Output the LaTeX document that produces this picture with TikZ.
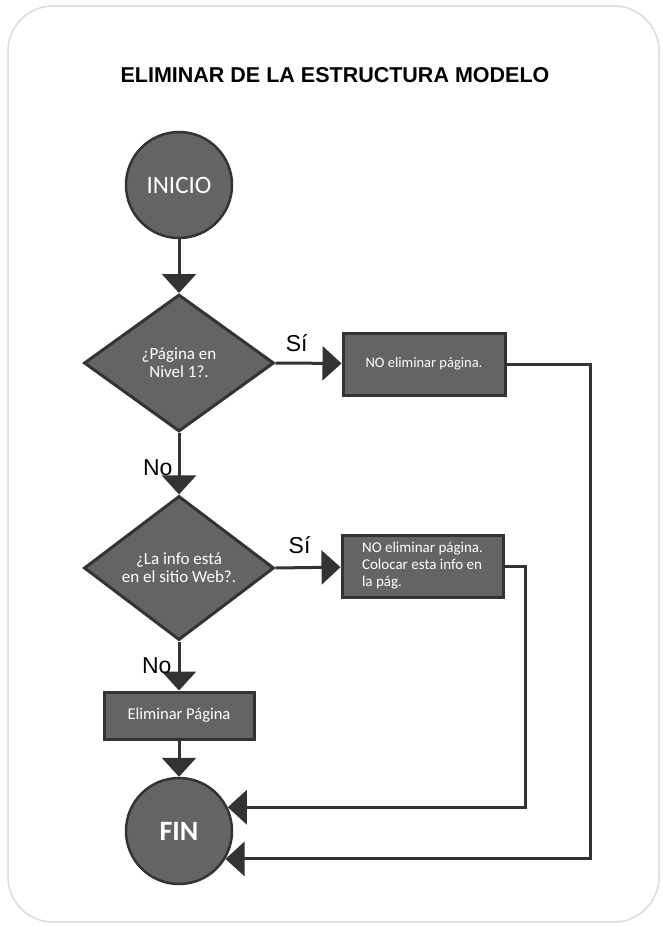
\documentclass[tikz,border=0pt]{standalone}
\usepackage{fontspec}
\setmainfont{Carlito}
\newfontfamily\arialfont{Liberation Sans}
\usetikzlibrary{shapes.geometric,arrows.meta}
\definecolor{boxgray}{HTML}{646464}
\definecolor{edgegray}{HTML}{333333}
\definecolor{framegray}{HTML}{DCDCDC}
\begin{document}
\begin{tikzpicture}[x=1pt,y=-1pt,
    term/.style={circle, draw=edgegray, fill=boxgray, line width=2.5pt, minimum size=106pt, inner sep=0pt, text=white, font=\fontsize{25}{30}\selectfont},
    decision/.style={diamond, draw=edgegray, fill=boxgray, line width=3pt, minimum width=190pt, minimum height=137pt, inner sep=0pt, text=white, align=center, font=\fontsize{17}{18}\selectfont},
    process/.style={rectangle, draw=edgegray, fill=boxgray, line width=3pt, inner sep=0pt, text=white, font=\fontsize{14.5}{17}\selectfont},
    flow/.style={draw=edgegray, line width=3pt, -{Triangle[length=19pt,width=34pt]}},
    answer/.style={inner sep=0pt, font=\arialfont\fontsize{23}{26}\selectfont}]
    \useasboundingbox (0,0) rectangle (663,927);
    \draw [framegray, line width=1.5pt, rounded corners=45pt] (8,6) rectangle (659,922);
    \node [font=\arialfont\bfseries\fontsize{21.5}{25}\selectfont] (title) at (335,75.5) {ELIMINAR DE LA ESTRUCTURA MODELO};
    \node [term] (inicio) at (179,185) {INICIO};
    \node [decision] (nivel) at (179,363) {¿Página en\\Nivel 1?.};
    \node [process, minimum width=162pt, minimum height=62pt] (conservar) at (424,364) {NO eliminar página.};
    \node [decision] (sitio) at (179,568) {¿La info está\\en el sitio Web?.};
    \node [process, minimum width=161pt, minimum height=62pt, align=left, font=\fontsize{15}{17}\selectfont] (colocar) at (422.5,566) {NO eliminar página.\\Colocar esta info en\\la pág.};
    \node [process, minimum width=150pt, minimum height=47pt, font=\fontsize{16.5}{19}\selectfont] (eliminar) at (179,715.5) {Eliminar Página};
    \node [term, font=\bfseries\fontsize{28}{32}\selectfont] (fin) at (179,831) {FIN};
    \coordinate (r1) at (590,364);
    \coordinate (r2) at (525,566);
    \draw [flow] (inicio) -- (nivel);
    \draw [flow] (nivel.east) -- node [answer, pos=0.32, above=10pt] {Sí} (conservar);
    \draw [flow] (nivel) -- node [answer, pos=0.56, left=5pt] {No} (sitio);
    \draw [flow] (sitio.east) -- node [answer, pos=0.37, above=12pt] {Sí} (colocar);
    \draw [flow] (sitio) -- node [answer, pos=0.49, left=6pt] {No} (eliminar);
    \draw [flow] (eliminar) -- (fin);
    \draw [flow] (conservar.east) -- (r1) |- (fin.-31);
    \draw [flow] (colocar.east) -- (r2) |- (fin.26);
\end{tikzpicture}
\end{document}
